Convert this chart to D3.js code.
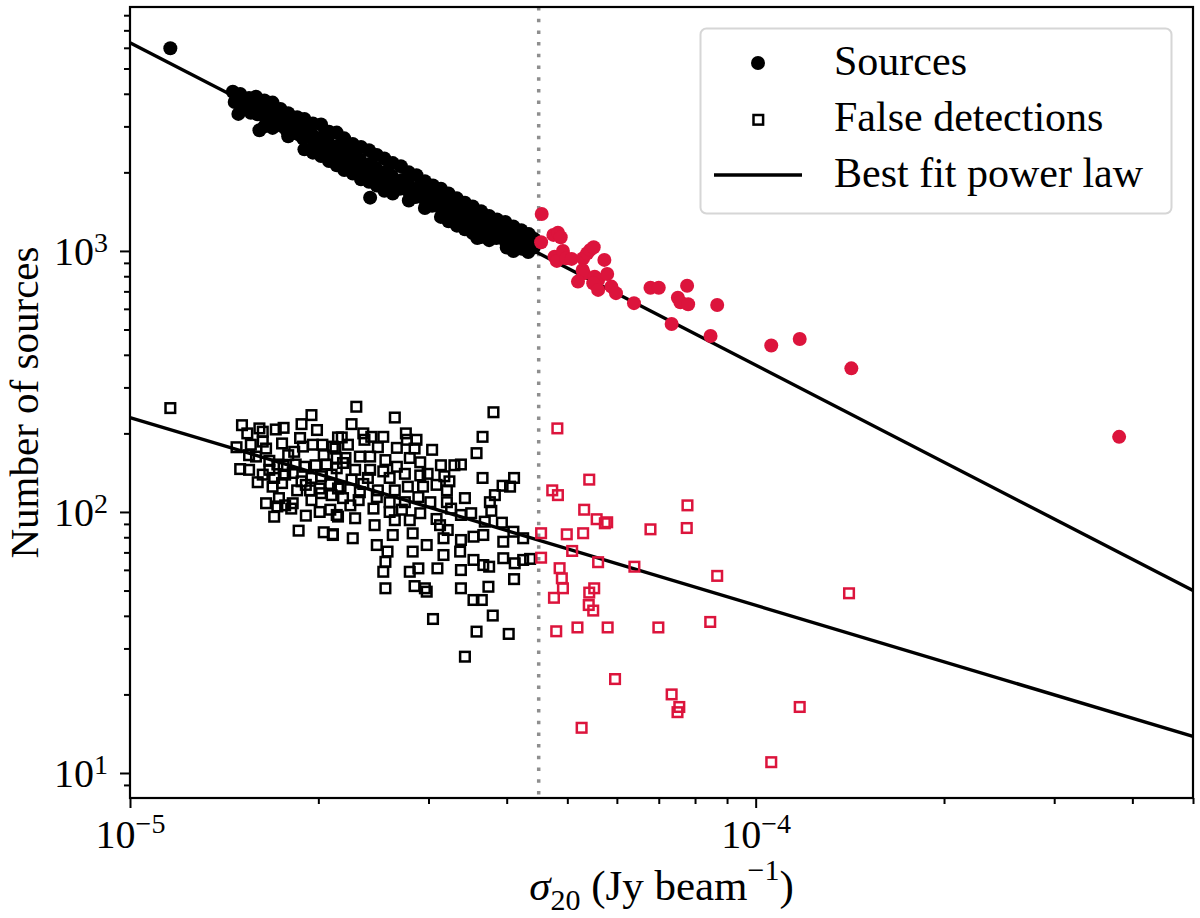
<!DOCTYPE html>
<html>
<head>
<meta charset="utf-8">
<script src="https://cdn.jsdelivr.net/npm/d3@7"></script>
<style>
body { margin: 0; background: white; }
svg text { font-family: "Liberation Serif", "DejaVu Serif", serif; }
</style>
</head>
<body>
<script>
// sigma_20 in uJy/beam, number of sources
var sourcesFaint = [
	[11.6,5980],
	[14.6,4070],[14.7,3720],
	[15.0,3990],[15.1,3600],[14.9,3350],
	[15.5,3850],[15.4,3650],[15.6,3380],
	[15.9,3900],[15.9,3600],[16.0,3340],[16.1,2900],
	[16.4,3770],[16.3,3450],[16.5,3220],[16.4,3000],
	[16.9,3700],[17.0,3390],[16.8,3150],[16.9,2960],
	[17.4,3500],[17.3,3240],[17.5,3010],
	[17.9,3370],[18.0,3130],[17.8,2900],[17.9,2750],
	[18.5,3250],[18.4,3020],[18.6,2800],
	[19.0,3200],[19.1,2920],[18.9,2700],[19.0,2450],
	[19.6,3080],[19.5,2810],[19.7,2580],[19.6,2380],
	[20.2,3050],[20.3,2740],[20.1,2520],[20.2,2310],
	[20.8,2860],[20.7,2630],[20.9,2420],[20.8,2210],
	[21.4,2840],[21.5,2530],[21.3,2330],[21.4,2130],
	[22.0,2700],[21.9,2430],[22.1,2240],[22.0,2040],
	[22.7,2570],[22.8,2330],[22.6,2150],[22.7,1980],
	[23.4,2500],[23.3,2240],[23.5,2070],[23.4,1880],
	[24.1,2430],[24.2,2160],[24.0,1990],[24.1,1840],[24.2,1600],
	[24.8,2330],[24.7,2080],[24.9,1920],[24.8,1780],
	[25.5,2260],[25.6,2010],[25.4,1850],[25.5,1700],
	[26.3,2170],[26.2,1940],[26.4,1790],[26.3,1660],
	[27.1,2110],[27.2,1870],[27.0,1730],
	[27.9,2000],[27.8,1800],[28.0,1660],[27.9,1560],
	[28.7,1950],[28.8,1740],[28.6,1610],
	[29.6,1850],[29.5,1680],[29.7,1550],[29.6,1460],
	[30.5,1780],[30.6,1610],[30.4,1490],
	[31.4,1730],[31.3,1560],[31.5,1440],[31.4,1350],
	[32.3,1660],[32.4,1510],[32.2,1390],[32.3,1300],
	[33.3,1590],[33.2,1450],[33.4,1340],[33.3,1250],
	[34.3,1530],[34.4,1400],[34.2,1290],[34.3,1210],
	[35.3,1480],[35.2,1350],[35.4,1250],[35.3,1170],[35.9,1120],
	[36.4,1420],[36.5,1300],[36.3,1200],[36.4,1130],
	[37.5,1360],[37.4,1250],[37.6,1160],[37.5,1100],
	[38.6,1320],[38.7,1200],[38.5,1120],
	[39.8,1290],[39.7,1170],[39.9,1080],[40.0,1030],
	[41.0,1240],[41.1,1130],[40.9,1060],[41.0,1000],
	[42.2,1200],[42.1,1080],[42.3,1020],
	[43.4,1160],[43.5,1060],[43.3,990],[43.1,1073],
	[44.3,1110],[44.2,1030]
];
var sourcesBright = [
	[45.5,1386],[45.4,1080],[47.5,1152],[48.3,1175],[48.8,1128],[47.7,951],[48.1,916],
	[49.2,1000],[49.8,938],[50.8,932],[53.0,938],[53.8,980],[54.4,1009],[55.1,1033],
	[57.3,924],[52.9,846],[53.1,821],[52.0,763],[55.3,797],[56.0,774],[57.9,816],
	[55.0,752],[56.0,709],[58.8,730],[59.8,689],[63.9,631],[67.9,723],[70.0,723],
	[77.7,736],[75.1,662],[75.8,636],[78.0,625],[86.8,621],[73.4,525],[84.7,472],
	[105.9,434],[117.6,460],[142.2,355],[381,194]
];
var falseFaint = [
	[11.6,250],[14.8,177],[15.0,146],[15.1,215],[15.4,200],[16.1,209],[16.3,203],[17.1,207],[17.6,210],[18.8,217],[19.5,235],
	[15.6,181],[16.3,186],[16.5,175],[17.5,183],[18.3,170],[18.9,178],[19.6,181],[20.3,181],[21.1,178],[21.5,193],
	[15.9,163],[16.7,157],[17.2,152],[17.6,150],[18.4,152],[19.0,149],[19.8,151],[20.4,165],[20.6,152],[21.4,161],
	[16.3,139],[17.0,135],[17.7,139],[18.2,141],[18.8,131],[19.5,135],[20.2,137],[21.0,139],
	[16.0,130],[16.9,125],[17.5,129],[18.5,121],[19.1,127],[20.1,123],[20.9,128],[21.5,123],
	[16.5,108],[17.3,113],[17.7,106],[18.2,108],[19.5,111],[20.2,118],[21.0,116],
	[17.2,105],[18.1,103],[19.1,96.8],[20.1,100],[20.9,102],[21.4,97.4],
	[17.0,95.9],[18.6,84.8],[20.4,83.6],[21.1,82.2],
	[15.5,165],[16.7,145],[17.9,165],[18.7,192],[19.9,206],[15.5,145],[19.4,121],
	[23.0,253],[26.5,230],[38.1,241],[22.6,217],[21.8,193],[23.6,200],[24.3,194],[25.4,194],[27.6,200],[27.7,189],[28.7,189],
	[36.6,194],[35.8,168],[26.7,176],[28.5,175],[28.0,161],[21.3,175],[22.1,161],[23.3,163],[24.2,163],[25.6,158],
	[31.4,151],[33.0,151],[33.8,152],[21.4,147],[22.9,145],[24.2,145],[25.4,143],[26.7,149],[27.5,140],[29.1,138],[29.9,140],[31.8,137],[32.4,131],
	[36.6,135],[41.1,135],[39.4,126],[40.5,125],
	[21.7,125],[23.6,128],[24.9,121],[26.5,121],[27.8,125],[29.4,125],[30.9,127],[32.1,121],[38.3,116],[37.6,109],
	[21.9,113],[23.2,111],[24.8,114],[26.0,109],[27.5,109],[28.9,114],[30.2,109],[32.1,109],[34.3,113],[37.8,101],
	[21.5,96],[22.9,94.6],[24.5,103],[26.0,100],[27.2,102],[29.1,98.9],[30.9,94],[32.6,103],[33.8,97.4],[35.1,98.9],
	[22.3,181],[23.7,189],[24.9,177],[22.6,133],[24.0,135],[26.0,135],[21.9,154],[23.3,119],
	[28.0,93],[24.6,89],[31.3,89],[26.5,93],[22.5,106],[29.1,155],[30.4,173],
	[36.9,91.8],[39.3,91.0],[41.0,84.0],[42.5,79.3],
	[21.1,81.6],[22.7,79.3],[24.8,74.7],[26.3,81.6],[28.3,82.8],[29.8,74.7],[31.7,79.3],[32.2,85.3],[33.8,78.1],[35.4,80.4],[36.7,81.6],[39.5,76.9],
	[25.8,70.5],[28.3,70.5],[31.7,68.4],[33.7,70.5],[35.4,65.5],[36.7,62.6],[37.5,61.7],[39.5,66.5],[41.2,63.6],[42.5,65.5],[43.6,66.1],
	[25.6,64.4],[25.4,59.0],[28.0,59.0],[28.9,60.8],[31.0,60.8],[33.8,59.9],[41.1,55.3],
	[25.6,51.0],[28.5,52.0],[29.6,51.0],[29.8,49.5],[33.8,51.0],[37.4,51.7],[35.4,46.0],[36.5,46.0],
	[30.5,38.9],[38.0,40.1],[35.8,34.8],[40.3,34.1],[34.3,27.9]
];
var falseBright = [
	[48.2,209],[54.2,133],[47.3,121],[48.3,116],[53.2,102],[55.7,93.8],[57.4,90.5],[57.9,91.3],
	[77.8,106],[77.6,86.8],[67.9,85.8],[45.4,82.9],[49.9,82.1],[53.0,82.9],[50.9,70.9],[45.4,66.8],
	[56.0,64.2],[64.0,61.7],[48.6,60.9],[49.0,55.7],[49.2,51.0],[47.6,46.9],[55.2,51.0],[54.2,49.1],
	[54.1,44.0],[55.0,41.9],[86.8,56.9],[141,48.8],[84.6,37.9],[48.0,34.9],[51.9,36.1],[58.0,36.1],
	[69.9,36.1],[59.6,22.9],[73.4,20.0],[75.5,17.9],[75.0,17.1],[117.6,17.9],[52.7,14.9],[105.9,11.0]
];
// power law fits, end points at the axis limits
var sourcesFit = [[10, 6280], [500, 50]];
var falseFit = [[10, 230], [500, 13.8]];
var sigmaCut = 45;
var xDomain = [10, 500];
var yDomain = [8.02, 8600];
var legendLabels = ["Sources", "False detections", "Best fit power law"];

var W = 1200, H = 918;
var margin = {top: 7, right: 7, bottom: 120, left: 130};
var red = "#dc143c";

var svg = d3.select("body")
	.append("svg")
	.attr("width", W)
	.attr("height", H);

var x = d3.scaleLog()
	.domain(xDomain.map(d => d * 1e-6))
	.range([margin.left, W - margin.right]);
var y = d3.scaleLog()
	.domain(yDomain)
	.range([H - margin.bottom, margin.top]);

var isMajor = d => Math.abs(Math.log10(d) - Math.round(Math.log10(d))) < 1e-6;

// x axis
var gx = svg.append("g")
	.attr("transform", "translate(0," + (H - margin.bottom) + ")")
	.call(d3.axisBottom(x).tickFormat(() => "").tickSizeOuter(0));
gx.select(".domain").remove();
gx.selectAll(".tick line")
	.attr("y2", d => isMajor(d) ? 10 : 6)
	.attr("stroke", "black")
	.attr("stroke-width", 2);
gx.selectAll(".tick").filter(isMajor)
	.append("text")
	.attr("y", 50)
	.attr("fill", "black")
	.attr("font-size", 40)
	.attr("text-anchor", "middle")
	.each(function(d){
		var t = d3.select(this);
		t.append("tspan").text("10");
		t.append("tspan").attr("dy", -15).attr("font-size", 28).text("\u2212" + Math.abs(Math.round(Math.log10(d))));
	});

// y axis
var gy = svg.append("g")
	.attr("transform", "translate(" + margin.left + ",0)")
	.call(d3.axisLeft(y).tickFormat(() => "").tickSizeOuter(0));
gy.select(".domain").remove();
gy.selectAll(".tick line")
	.attr("x2", d => isMajor(d) ? -10 : -6)
	.attr("stroke", "black")
	.attr("stroke-width", 2);
gy.selectAll(".tick").filter(isMajor)
	.append("text")
	.attr("x", -22)
	.attr("y", 14)
	.attr("fill", "black")
	.attr("font-size", 40)
	.attr("text-anchor", "end")
	.each(function(d){
		var t = d3.select(this);
		t.append("tspan").text("10");
		t.append("tspan").attr("dy", -13).attr("font-size", 28).text(Math.round(Math.log10(d)));
	});

// axis labels
var xl = svg.append("text")
	.attr("x", (margin.left + W - margin.right) / 2)
	.attr("y", 900)
	.attr("font-size", 43)
	.attr("text-anchor", "middle");
xl.append("tspan").attr("font-style", "italic").text("\u03c3");
xl.append("tspan").attr("font-size", 30).attr("dy", 10).text("20");
xl.append("tspan").attr("dy", -10).text(" (Jy beam");
xl.append("tspan").attr("font-size", 30).attr("dy", -20).text("\u22121");
xl.append("tspan").attr("dy", 20).text(")");

svg.append("text")
	.attr("transform", "translate(38," + (margin.top + H - margin.bottom) / 2 + ") rotate(-90)")
	.attr("font-size", 41)
	.attr("text-anchor", "middle")
	.text("Number of sources");

// detection limit
svg.append("line")
	.attr("x1", x(sigmaCut * 1e-6)).attr("x2", x(sigmaCut * 1e-6))
	.attr("y1", margin.top).attr("y2", H - margin.bottom)
	.attr("stroke", "#8e8e8e")
	.attr("stroke-width", 3.5)
	.attr("stroke-dasharray", "3.5,8.2");

// fits
var line = d3.line().x(d => x(d[0] * 1e-6)).y(d => y(d[1]));
[sourcesFit, falseFit].forEach(function(f){
	svg.append("path")
		.attr("d", line(f))
		.attr("fill", "none")
		.attr("stroke", "black")
		.attr("stroke-width", 3.4);
});

// false detections
function squares(data, color){
	svg.append("g").selectAll("rect")
		.data(data)
		.join("rect")
		.attr("x", d => x(d[0] * 1e-6) - 4.8)
		.attr("y", d => y(d[1]) - 4.8)
		.attr("width", 9.6)
		.attr("height", 9.6)
		.attr("fill", "none")
		.attr("stroke", color)
		.attr("stroke-width", 2.5);
}
squares(falseFaint, "black");
squares(falseBright, red);

// sources
function dots(data, color){
	svg.append("g").selectAll("circle")
		.data(data)
		.join("circle")
		.attr("cx", d => x(d[0] * 1e-6))
		.attr("cy", d => y(d[1]))
		.attr("r", 7)
		.attr("fill", color);
}
dots(sourcesFaint, "black");
dots(sourcesBright, red);

// frame
svg.append("rect")
	.attr("x", margin.left).attr("y", margin.top)
	.attr("width", W - margin.left - margin.right)
	.attr("height", H - margin.top - margin.bottom)
	.attr("fill", "none")
	.attr("stroke", "black")
	.attr("stroke-width", 2.2);

// legend
var lg = svg.append("g").attr("transform", "translate(700,28)");
lg.append("rect")
	.attr("x", 0.5).attr("y", 0.5)
	.attr("width", 471).attr("height", 185)
	.attr("rx", 6)
	.attr("fill", "white").attr("fill-opacity", 0.8)
	.attr("stroke", "#d6d6d6").attr("stroke-width", 2);
lg.selectAll("text.lab")
	.data(legendLabels)
	.join("text")
	.attr("class", "lab")
	.attr("x", 134)
	.attr("y", (d, i) => 47 + i * 56)
	.attr("font-size", 42)
	.text(d => d);
lg.append("circle").attr("cx", 58).attr("cy", 35).attr("r", 7).attr("fill", "black");
lg.append("rect").attr("x", 53.5).attr("y", 87).attr("width", 9.6).attr("height", 9.6)
	.attr("fill", "none").attr("stroke", "black").attr("stroke-width", 2.5);
lg.append("line").attr("x1", 14).attr("x2", 102).attr("y1", 147).attr("y2", 147)
	.attr("stroke", "black").attr("stroke-width", 3.4);
</script>
</body>
</html>
